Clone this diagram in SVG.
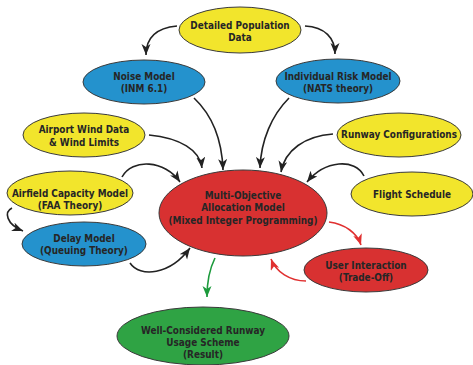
<svg xmlns="http://www.w3.org/2000/svg" width="473" height="365" viewBox="0 0 473 365">
<style>
.n{stroke:#3a3a3a;stroke-width:1}
.y{fill:#f2e52c}.b{fill:#2492cd}.r{fill:#d83131}.g{fill:#2fa344}
text{font-family:"DejaVu Sans Condensed","DejaVu Sans",sans-serif;font-weight:bold;font-size:9.9px;fill:#262626;text-anchor:middle;dominant-baseline:central}
.e{fill:none;stroke:#222;stroke-width:1.6}
.er{stroke:#e03030}.eg{stroke:#1c9a3c}
</style>
<defs>
<marker id="ak" markerUnits="userSpaceOnUse" markerWidth="12" markerHeight="10" refX="11" refY="4.5" orient="auto"><path d="M0,0 L11,4.5 L0,9 L3,4.5 z" fill="#222"/></marker>
<marker id="ar" markerUnits="userSpaceOnUse" markerWidth="12" markerHeight="10" refX="11" refY="4.5" orient="auto"><path d="M0,0 L11,4.5 L0,9 L3,4.5 z" fill="#e03030"/></marker>
<marker id="ag" markerUnits="userSpaceOnUse" markerWidth="12" markerHeight="10" refX="11" refY="4.5" orient="auto"><path d="M0,0 L11,4.5 L0,9 L3,4.5 z" fill="#1c9a3c"/></marker>
</defs>
<g id="connectors">
<path class="e" d="M177,26 C155,28 146,38 146,55" marker-end="url(#ak)"/>
<path class="e" d="M305,26 C325,27 335,38 335,54" marker-end="url(#ak)"/>
<path class="e" d="M194,98 C212,115 222,140 223,170" marker-end="url(#ak)"/>
<path class="e" d="M149,135 C180,138 200,150 202,168" marker-end="url(#ak)"/>
<path class="e" d="M289,98 C272,115 261,140 260,168" marker-end="url(#ak)"/>
<path class="e" d="M333,134 C305,136 285,150 281,172" marker-end="url(#ak)"/>
<path class="e" d="M364,176 C355,158 325,160 307,182" marker-end="url(#ak)"/>
<path class="e" d="M122,177 C132,158 165,160 180,182" marker-end="url(#ak)"/>
<path class="e" d="M12,208 C4,212 6,224 23,231" marker-end="url(#ak)"/>
<path class="e" d="M130,263 C140,278 170,275 190,248" marker-end="url(#ak)"/>
<path class="e eg" d="M215,258 C209,270 207,283 207,297" marker-end="url(#ag)"/>
<path class="e er" d="M329,222 C345,224 357,233 361,245" marker-end="url(#ar)"/>
<path class="e er" d="M306,281 C290,281 276,272 271,259" marker-end="url(#ar)"/>
</g>
<g id="pop"><ellipse class="n y" cx="240" cy="30" rx="61" ry="23"/><text x="240" y="25">Detailed Population</text><text x="240" y="37">Data</text></g>
<g id="noise"><ellipse class="n b" cx="144" cy="82" rx="61" ry="22"/><text x="144" y="76">Noise Model</text><text x="144" y="88">(INM 6.1)</text></g>
<g id="risk"><ellipse class="n b" cx="338" cy="81" rx="62" ry="22"/><text x="338" y="76">Individual Risk Model</text><text x="338" y="88">(NATS theory)</text></g>
<g id="wind"><ellipse class="n y" cx="84" cy="135" rx="61" ry="22"/><text x="84" y="129">Airport Wind Data</text><text x="84" y="142">&amp; Wind Limits</text></g>
<g id="runway"><ellipse class="n y" cx="399" cy="135" rx="62" ry="22"/><text x="399" y="134">Runway Configurations</text></g>
<g id="capacity"><ellipse class="n y" cx="70" cy="193" rx="63" ry="22"/><text x="70" y="193">Airfield Capacity Model</text><text x="70" y="205">(FAA Theory)</text></g>
<g id="delay"><ellipse class="n b" cx="84" cy="244" rx="62" ry="22"/><text x="84" y="238">Delay Model</text><text x="84" y="250">(Queuing Theory)</text></g>
<g id="moam"><ellipse class="n r" cx="243" cy="213" rx="84" ry="43"/><text x="243" y="195">Multi-Objective</text><text x="243" y="207">Allocation Model</text><text x="243" y="220">(Mixed Integer Programming)</text></g>
<g id="flight"><ellipse class="n y" cx="412" cy="194" rx="61" ry="22"/><text x="412" y="194">Flight Schedule</text></g>
<g id="user"><ellipse class="n r" cx="366" cy="270" rx="62" ry="22"/><text x="366" y="265">User Interaction</text><text x="366" y="277">(Trade-Off)</text></g>
<g id="result"><ellipse class="n g" cx="203" cy="336" rx="86" ry="29"/><text x="203" y="330">Well-Considered Runway</text><text x="203" y="342">Usage Scheme</text><text x="203" y="354">(Result)</text></g>
</svg>
